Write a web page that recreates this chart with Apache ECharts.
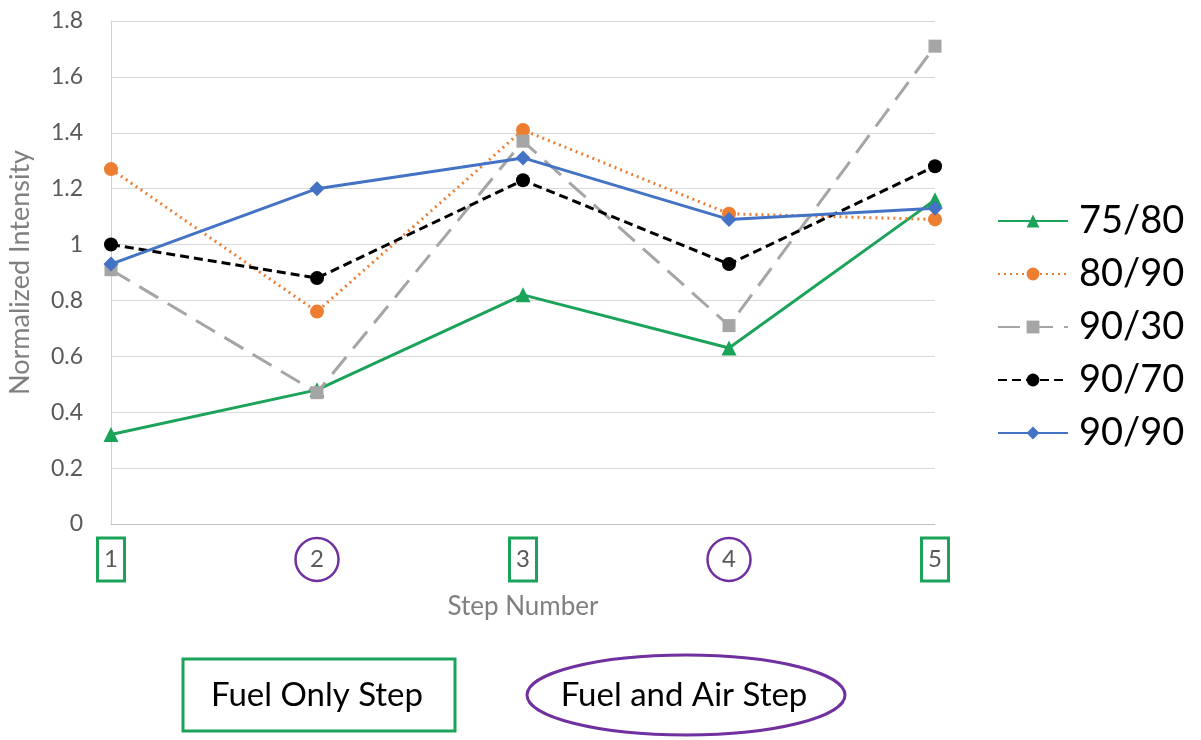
<!DOCTYPE html>
<html>
<head>
<meta charset="utf-8">
<script src="https://cdn.jsdelivr.net/npm/echarts@6/dist/echarts.min.js"></script>
<style>
  html, body { margin: 0; padding: 0; background: #fff; }
  #chart { width: 1201px; height: 740px; }
</style>
</head>
<body>
<div id="chart"></div>
<script>
// step numbers on the x axis
const steps = ['1', '2', '3', '4', '5'];
// series names as in the legend
const names = ['75/80', '80/90', '90/30', '90/70', '90/90'];

// normalized intensity per step
const s7580 = [0.32, 0.48, 0.82, 0.63, 1.16];
const s8090 = [1.27, 0.76, 1.41, 1.11, 1.09];
const s9030 = [0.91, 0.47, 1.37, 0.71, 1.71];
const s9070 = [1.00, 0.88, 1.23, 0.93, 1.28];
const s9090 = [0.93, 1.20, 1.31, 1.09, 1.13];

const FONT = 'Lato';
const GREEN = '#1ba35a';
const PURPLE = '#7030a0';

const chart = echarts.init(document.getElementById('chart'));

function line(name, data, color, type, width, symbol, size) {
    return {
        name: name,
        type: 'line',
        data: data,
        symbol: symbol,
        symbolSize: size,
        itemStyle: { color: color },
        lineStyle: { color: color, type: type, width: width },
        emphasis: { disabled: true },
        animation: false
    };
}

chart.setOption({
    backgroundColor: '#fff',
    textStyle: { fontFamily: FONT },
    grid: { left: 111, right: 266, top: 21, bottom: 216, outerBoundsMode: 'none' },
    legend: {
        orient: 'vertical',
        left: 992,
        top: 196,
        itemWidth: 70,
        itemHeight: 16,
        itemGap: 13,
        data: names,
        textStyle: { fontFamily: FONT, fontSize: 38, color: '#000', lineHeight: 40, padding: [0, 0, 0, 6] }
    },
    xAxis: {
        type: 'category',
        data: steps,
        boundaryGap: false,
        name: 'Step Number',
        nameLocation: 'middle',
        nameGap: 70,
        nameTextStyle: { fontFamily: FONT, fontSize: 26, color: '#7f7f7f', verticalAlign: 'top' },
        axisLine: { lineStyle: { color: '#bfbfbf', width: 1 } },
        axisTick: { show: false },
        axisLabel: {
            margin: 14,
            fontSize: 24,
            formatter: function (v, i) {
                return (i % 2 === 0 ? '{sq|' : '{ci|') + v + '}';
            },
            rich: {
                sq: {
                    width: 27, height: 43, lineHeight: 43, align: 'center',
                    borderColor: GREEN, borderWidth: 3,
                    fontFamily: FONT, fontSize: 24, color: '#595959'
                },
                ci: {
                    width: 43, height: 43, lineHeight: 43, align: 'center',
                    borderColor: PURPLE, borderWidth: 2.5, borderRadius: 24,
                    fontFamily: FONT, fontSize: 24, color: '#595959'
                }
            }
        }
    },
    yAxis: {
        type: 'value',
        min: 0,
        max: 1.8,
        interval: 0.2,
        name: 'Normalized Intensity',
        nameLocation: 'middle',
        nameGap: 77,
        nameTextStyle: { fontFamily: FONT, fontSize: 27, color: '#7f7f7f' },
        axisLine: { show: true, lineStyle: { color: '#d0d0d0' } },
        axisTick: { show: false },
        splitLine: { lineStyle: { color: '#d9d9d9' } },
        axisLabel: { margin: 28, fontFamily: FONT, fontSize: 23, color: '#595959' }
    },
    graphic: [
        {
            type: 'rect',
            shape: { x: 183, y: 659, width: 272, height: 72 },
            style: { fill: '#fff', stroke: GREEN, lineWidth: 3 }
        },
        {
            type: 'text',
            style: { x: 317, y: 695, text: 'Fuel Only Step', font: '33px Lato', fill: '#000',
                     textAlign: 'center', textVerticalAlign: 'middle' }
        },
        {
            type: 'ellipse',
            shape: { cx: 686, cy: 695, rx: 159, ry: 40 },
            style: { fill: '#fff', stroke: PURPLE, lineWidth: 3 }
        },
        {
            type: 'text',
            style: { x: 684, y: 695, text: 'Fuel and Air Step', font: '33px Lato', fill: '#000',
                     textAlign: 'center', textVerticalAlign: 'middle' }
        }
    ],
    series: [
        line('75/80', s7580, '#1ba35a', 'solid', 3, 'triangle', 15),
        line('80/90', s8090, '#ed7d31', [2, 4], 3, 'circle', 14),
        line('90/30', s9030, '#a5a5a5', [22, 11], 3, 'rect', 13),
        line('90/70', s9070, '#000000', [9, 5], 3, 'circle', 14),
        line('90/90', s9090, '#4472c4', 'solid', 3, 'diamond', 15)
    ]
});
</script>
</body>
</html>
